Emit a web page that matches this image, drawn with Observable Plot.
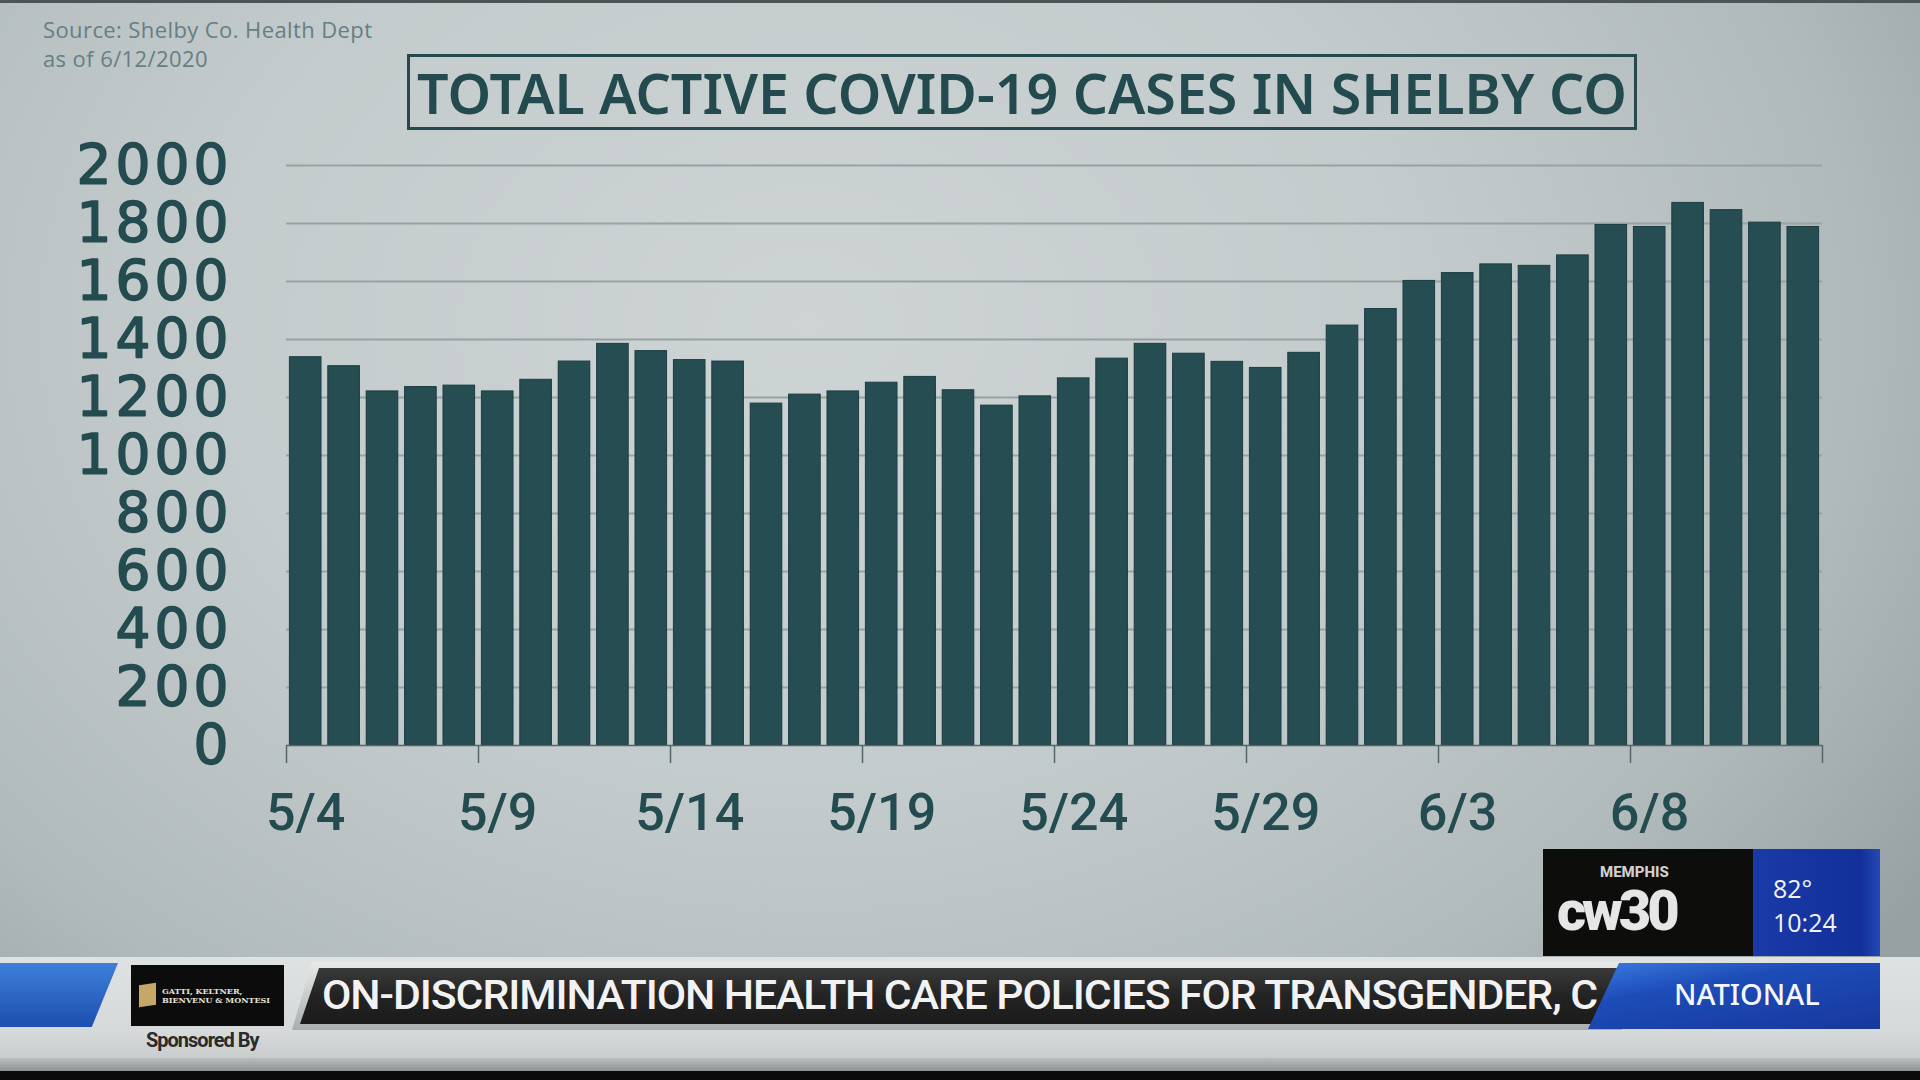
<!DOCTYPE html>
<html>
<head>
<meta charset="utf-8">
<script src="https://cdn.jsdelivr.net/npm/d3@7"></script>
<script src="https://cdn.jsdelivr.net/npm/@observablehq/plot@0.6"></script>
<style>
  html, body { margin: 0; padding: 0; }
  body {
    width: 1920px; height: 1080px; overflow: hidden; position: relative;
    background: radial-gradient(ellipse 70% 95% at 42% 30%, #ced4d4 0%, #c4cbcc 45%, #b1babb 78%, #97a1a3 100%);
    font-family: "Noto Sans", sans-serif;
  }
  #topline { position: absolute; left: 0; top: 0; width: 1920px; height: 3px; background: #4c5456; }
  #source { position: absolute; left: 43px; top: 15px; color: #657f83; font: 400 22px/29px "Open Sans", sans-serif; letter-spacing: 0.4px; }
  #titlebox { position: absolute; left: 407px; top: 54px; width: 1224px; height: 70px; border: 3px solid #26494e; overflow: hidden; }
  #title { position: absolute; left: 50%; top: 50%; white-space: nowrap; color: #234a4f; font: 600 56px/1 "Noto Sans", sans-serif; transform-origin: center center; }
  #chart { position: absolute; left: 0; top: 0; }
  #chart g[aria-label="y-axis tick label"] text { letter-spacing: 4px; }
  /* lower third */
  #lt-band { position: absolute; left: 0; top: 957px; width: 1920px; height: 108px; background: linear-gradient(#dfe2e3, #d6d9da 70%, #c6cacb); }
  #lt-shadow { position: absolute; left: 0; top: 1058px; width: 1920px; height: 13px; background: linear-gradient(#b8bdbe, #8e9495); }
  #lt-black { position: absolute; left: 0; top: 1071px; width: 1920px; height: 9px; background: #0b0b0b; }
  #lt-blue-left { position: absolute; left: -20px; top: 963px; width: 138px; height: 64px; background: linear-gradient(#3d7fd8, #1d4fb0); clip-path: polygon(0 0, 100% 0, 81% 100%, 0 100%); }
  #sponsor { position: absolute; left: 131px; top: 965px; width: 153px; height: 61px; background: #0c0c0c; }
  #sponsor .cube { position: absolute; left: 8px; top: 19px; width: 17px; height: 22px; background: #c7a766; transform: skewY(-8deg); }
  #sponsor .name { position: absolute; left: 31px; top: 22px; color: #e8e3d6; font: 700 8px/9px "DejaVu Serif", serif; letter-spacing: 0px; }
  #sponsored { position: absolute; left: 146px; top: 1027px; color: #2b2b2b; font: 700 20px/26px "Roboto", sans-serif; letter-spacing: -1px; }
  #ticker-frame { position: absolute; left: 292px; top: 962px; width: 1330px; height: 68px; background: linear-gradient(#e8eaea, #a9adae); clip-path: polygon(20px 0, 100% 0, 100% 100%, 0 100%); }
  #ticker { position: absolute; left: 300px; top: 968px; width: 1320px; height: 56px; background: linear-gradient(#3a3a3a, #232323 50%, #1b1b1b); clip-path: polygon(19px 0, 100% 0, 100% 100%, 0 100%); overflow: hidden; }
  #ticker span { position: absolute; left: 22px; top: 8px; white-space: nowrap; color: #f2f2f2; font: 500 40px/1 "Roboto", sans-serif; letter-spacing: -1px; transform-origin: left center; }
  #national { position: absolute; left: 1588px; top: 963px; width: 292px; height: 66px; background: linear-gradient(170deg, #3b7ae0 0%, #1d4cb8 35%, #17389c 100%); clip-path: polygon(31px 0, 100% 0, 100% 100%, 0 100%); }
  #national span { position: absolute; left: 86px; top: 16px; color: #f4f6fb; font: 500 29px/1 "Noto Sans", sans-serif; }
  #logo { position: absolute; left: 1543px; top: 849px; width: 210px; height: 107px; background: #0d0d0c; }
  #logo .memphis { position: absolute; left: 57px; top: 16px; color: #cfcfcf; font: 800 15px/15px "Roboto", sans-serif; }
  #logo .cw { position: absolute; left: 14px; top: 34px; color: #e6e6e6; font: 900 56px/56px "Roboto", sans-serif; letter-spacing: -4px; }
  #wx { position: absolute; left: 1753px; top: 849px; width: 127px; height: 107px; background: linear-gradient(90deg, #1a3aa8, #13309a 85%, #2449b5); }
  #wx div { position: absolute; left: 20px; color: #f2f4fa; font: 400 25px/25px "Open Sans", sans-serif; }
</style>
</head>
<body>
<div id="topline"></div>
<div id="source">Source: Shelby Co. Health Dept<br>as of 6/12/2020</div>
<div id="titlebox"><div id="title">TOTAL ACTIVE COVID-19 CASES IN SHELBY CO</div></div>
<div id="chart"></div>

<div id="logo"><div class="memphis">MEMPHIS</div><div class="cw">cw30</div></div>
<div id="wx"><div style="top:27px">82°</div><div style="top:61px">10:24</div></div>
<div id="lt-band"></div>
<div id="lt-shadow"></div>
<div id="lt-black"></div>
<div id="lt-blue-left"></div>
<div id="sponsor"><div class="cube"></div><div class="name">GATTI, KELTNER,<br>BIENVENU &amp; MONTESI</div></div>
<div id="sponsored">Sponsored By</div>
<div id="ticker-frame"></div>
<div id="ticker"><span id="tickertext">ON-DISCRIMINATION HEALTH CARE POLICIES FOR TRANSGENDER, C</span></div>
<div id="national"><span>NATIONAL</span></div>

<script>
// ---- data ----
const days = [
  "5/4","5/5","5/6","5/7","5/8","5/9","5/10","5/11","5/12","5/13",
  "5/14","5/15","5/16","5/17","5/18","5/19","5/20","5/21","5/22","5/23",
  "5/24","5/25","5/26","5/27","5/28","5/29","5/30","5/31","6/1","6/2",
  "6/3","6/4","6/5","6/6","6/7","6/8","6/9","6/10","6/11","6/12"
];
const activeCases = [
  1339, 1308, 1221, 1236, 1241, 1221, 1261, 1324, 1385, 1360,
  1329, 1324, 1179, 1210, 1221, 1251, 1271, 1225, 1172, 1204,
  1266, 1334, 1385, 1351, 1323, 1302, 1354, 1448, 1505, 1602,
  1629, 1659, 1654, 1690, 1795, 1788, 1871, 1846, 1803, 1788
];
const xTickDays = ["5/4","5/9","5/14","5/19","5/24","5/29","6/3","6/8","6/13"];
const xLabelDays = ["5/4","5/9","5/14","5/19","5/24","5/29","6/3","6/8"];
const yTicks = [0, 200, 400, 600, 800, 1000, 1200, 1400, 1600, 1800, 2000];
const gridTicks = [200, 400, 600, 800, 1000, 1200, 1400, 1600, 1800, 2000];

const parse = s => d3.utcParse("%m/%d/%Y")(s + "/2020");
const data = days.map((d, i) => ({date: parse(d), label: d, value: activeCases[i]}));
const fmt = d3.utcFormat("%-m/%-d");

const teal = "#234b50";
const axisGray = "#56656a";

const chart = Plot.plot({
  width: 1920,
  height: 880,
  marginLeft: 286,
  marginRight: 98,
  marginTop: 165,
  marginBottom: 135,
  style: {background: "transparent", overflow: "visible"},
  x: {type: "utc", domain: [parse("5/4"), parse("6/13")]},
  y: {domain: [0, 2000]},
  marks: [
    Plot.gridY(gridTicks, {stroke: "#98a1a3", strokeOpacity: 1, strokeWidth: 2}),
    Plot.rectY(data, {x: "date", y: "value", interval: d3.utcDay, fill: "#254d52", stroke: "#1b3d42", strokeWidth: 1, insetLeft: 3.4, insetRight: 3.4}),
    Plot.ruleY([0], {stroke: axisGray, strokeWidth: 1.5}),
    Plot.axisX(xTickDays.map(parse), {tickSize: 18, stroke: axisGray, strokeWidth: 1.5, fill: "none", label: null}),
    Plot.axisX(xLabelDays.map(parse), {tickSize: 0, tickPadding: 48, dx: 19.2, tickFormat: fmt, fill: teal, fontSize: 52, fontFamily: "Roboto", fontWeight: 500, label: null}),
    Plot.axisY(yTicks, {tickSize: 0, tickPadding: 54, tickFormat: d => String(d), fill: teal, textStroke: teal, textStrokeWidth: 1.6, fontSize: 55, fontFamily: "DejaVu Sans", fontWeight: "normal", label: null})
  ]
});
document.getElementById("chart").appendChild(chart);

// fit the title to the box width as in the reference
const t = document.getElementById("title");
const w = t.getBoundingClientRect().width;
t.style.transform = `translate(-50%, -50%) scaleX(${1210 / w})`;
// ticker text spans the ticker as in the reference
const tt = document.getElementById("tickertext");
const tw = tt.getBoundingClientRect().width;
tt.style.transform = `scaleX(${1275 / tw})`;
</script>
</body>
</html>
